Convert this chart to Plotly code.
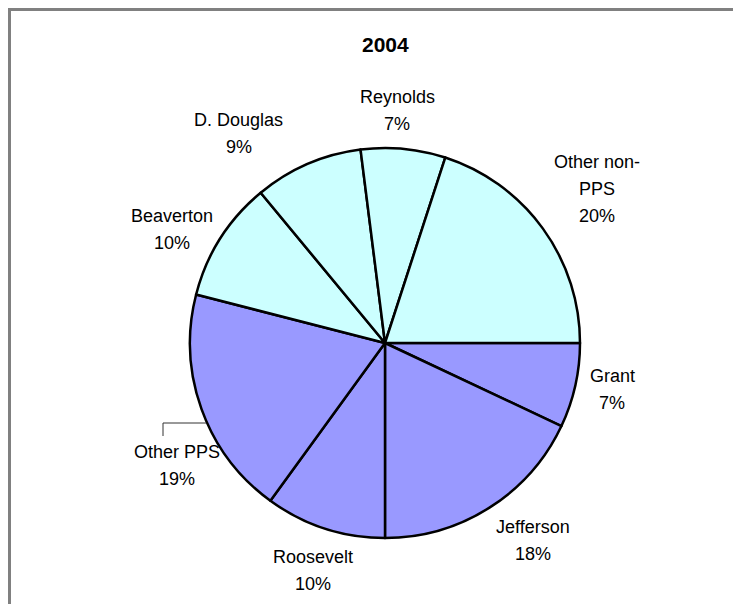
import plotly.graph_objects as go

# ---- data ----
categories = ["Grant", "Jefferson", "Roosevelt", "Other PPS",
              "Beaverton", "D. Douglas", "Reynolds", "Other non-PPS"]
shares = [7, 18, 10, 19, 10, 9, 7, 20]
groups = ["PPS", "PPS", "PPS", "PPS", "non-PPS", "non-PPS", "non-PPS", "non-PPS"]
display_names = ["Grant", "Jefferson", "Roosevelt", "Other PPS",
                 "Beaverton", "D. Douglas", "Reynolds", "Other non-<br>PPS"]
title_text = "2004"

# ---- style / layout ----
OFF = 8                      # page body margin
W, H = 741 - OFF, 604 - OFF  # figure size
CX, CY, R = 385, 343, 195    # pie centre / radius in page pixels
group_colors = {"PPS": "#9999FF", "non-PPS": "#CCFFFF"}
FONT = "Liberation Sans Narrow, Arial Narrow, Liberation Sans, Arial, sans-serif"

# label centre positions (page pixels) for each category
label_pos = {
    "Grant": (612, 389),
    "Jefferson": (533, 540),
    "Roosevelt": (313, 570),
    "Other PPS": (177, 465),
    "Beaverton": (172, 229),
    "D. Douglas": (239, 133),
    "Reynolds": (397, 111),
    "Other non-PPS": (597, 189),
}
LINE_GAP = 27


def px(x):
    return (x - OFF) / W


def py(y):
    return 1 - (y - OFF) / H


fig = go.Figure(go.Pie(
    labels=categories,
    values=shares,
    sort=False,
    direction="clockwise",
    rotation=90,
    marker=dict(colors=[group_colors[g] for g in groups],
                line=dict(color="black", width=2.5)),
    textinfo="none",
    hoverinfo="label+percent",
    showlegend=False,
    domain=dict(x=[px(CX - R), px(CX + R)], y=[py(CY + R), py(CY - R)]),
))

total = sum(shares)
annotations = []
for cat, name, v in zip(categories, display_names, shares):
    cx, cy = label_pos[cat]
    lines = name.split("<br>") + [f"{round(100 * v / total)}%"]
    n = len(lines)
    for i, t in enumerate(lines):
        yy = cy + (i - (n - 1) / 2) * LINE_GAP
        annotations.append(dict(
            x=px(cx), y=py(yy), xref="paper", yref="paper",
            text=t, showarrow=False, xanchor="center", yanchor="middle",
            font=dict(family=FONT, size=18, color="black")))

annotations.append(dict(
    x=px(CX), y=py(44), xref="paper", yref="paper", text=f"<b>{title_text}</b>",
    showarrow=False, xanchor="center", yanchor="middle",
    font=dict(family=FONT, size=21, color="black")))

shapes = [
    # chart frame (only top and left visible)
    dict(type="rect", xref="paper", yref="paper",
         x0=px(9.5), y0=py(9.5), x1=1.2, y1=-0.2,
         line=dict(color="#808080", width=3), fillcolor="rgba(0,0,0,0)",
         layer="below"),
    # leader line for Other PPS
    dict(type="path", xref="paper", yref="paper",
         path=f"M {px(163)} {py(436)} L {px(163)} {py(423)} L {px(206)} {py(423)}",
         line=dict(color="#333333", width=1)),
]

fig.update_layout(
    width=W, height=H,
    margin=dict(l=0, r=0, t=0, b=0),
    paper_bgcolor="white", plot_bgcolor="white",
    annotations=annotations,
    shapes=shapes,
    font=dict(family=FONT),
)

fig.write_html("out.html")
